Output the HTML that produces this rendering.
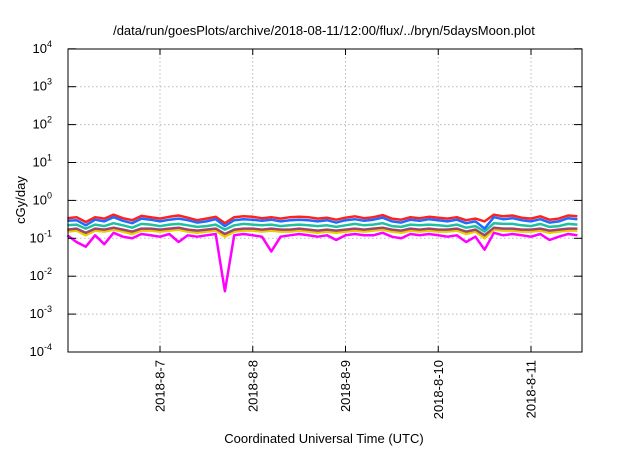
<!DOCTYPE html>
<html><head><meta charset="utf-8"><style>
body{margin:0;background:#fff;width:640px;height:448px;overflow:hidden}
svg{font-family:"Liberation Sans",sans-serif}
</style></head><body>
<svg id="chart" width="640" height="448" viewBox="0 0 640 448" xmlns="http://www.w3.org/2000/svg">
<text x="324" y="35" font-size="13" text-anchor="middle">/data/run/goesPlots/archive/2018-08-11/12:00/flux/../bryn/5daysMoon.plot</text>
<text transform="translate(25,200) rotate(-90)" font-size="13" text-anchor="middle">cGy/day</text>
<text x="324" y="443" font-size="13" text-anchor="middle">Coordinated Universal Time (UTC)</text>
<g id="grid"></g><g id="series"></g><g id="axes"></g>
</svg>
<script>
const dayTicks=["2018-8-7","2018-8-8","2018-8-9","2018-8-10","2018-8-11"];
const yExps=[-4,-3,-2,-1,0,1,2,3,4];
// time step 0.1 day starting 2018-8-6 00:00
const red=[0.34,0.36,0.27,0.36,0.33,0.42,0.34,0.30,0.39,0.36,0.33,0.37,0.40,0.35,0.30,0.33,0.37,0.25,0.36,0.38,0.37,0.34,0.36,0.33,0.36,0.37,0.36,0.33,0.35,0.31,0.35,0.38,0.34,0.36,0.41,0.33,0.31,0.36,0.34,0.37,0.35,0.33,0.36,0.30,0.33,0.28,0.42,0.38,0.40,0.35,0.33,0.38,0.31,0.33,0.40,0.38];
const blue=[0.29,0.30,0.22,0.31,0.28,0.36,0.29,0.25,0.33,0.31,0.28,0.31,0.33,0.30,0.26,0.28,0.32,0.21,0.30,0.32,0.31,0.29,0.31,0.28,0.30,0.31,0.30,0.28,0.30,0.26,0.30,0.32,0.29,0.31,0.35,0.28,0.26,0.31,0.29,0.32,0.30,0.28,0.31,0.25,0.28,0.18,0.36,0.32,0.34,0.30,0.28,0.32,0.26,0.28,0.34,0.32];
const teal=[0.22,0.23,0.18,0.23,0.21,0.25,0.22,0.19,0.24,0.23,0.21,0.23,0.24,0.22,0.20,0.21,0.23,0.17,0.22,0.24,0.23,0.22,0.23,0.21,0.22,0.23,0.22,0.21,0.22,0.20,0.22,0.24,0.22,0.23,0.25,0.21,0.20,0.23,0.22,0.23,0.22,0.21,0.23,0.19,0.21,0.15,0.25,0.24,0.24,0.22,0.21,0.24,0.20,0.21,0.24,0.23];
const brown=[0.17,0.18,0.14,0.18,0.17,0.19,0.17,0.15,0.18,0.18,0.17,0.18,0.19,0.17,0.16,0.17,0.18,0.13,0.17,0.18,0.18,0.17,0.18,0.17,0.17,0.18,0.17,0.16,0.17,0.16,0.17,0.18,0.17,0.18,0.19,0.17,0.16,0.18,0.17,0.18,0.17,0.17,0.18,0.15,0.17,0.12,0.19,0.18,0.18,0.17,0.17,0.18,0.16,0.17,0.18,0.18];
const yellow=[0.15,0.16,0.12,0.16,0.15,0.17,0.15,0.13,0.16,0.16,0.15,0.16,0.17,0.15,0.14,0.15,0.16,0.11,0.15,0.16,0.16,0.15,0.16,0.15,0.15,0.16,0.15,0.14,0.15,0.14,0.15,0.16,0.15,0.16,0.17,0.15,0.14,0.16,0.15,0.16,0.15,0.15,0.16,0.13,0.15,0.10,0.17,0.16,0.16,0.15,0.15,0.16,0.14,0.15,0.16,0.16];
const magenta=[0.12,0.08,0.06,0.12,0.07,0.14,0.11,0.10,0.13,0.12,0.11,0.13,0.08,0.12,0.11,0.12,0.13,0.004,0.12,0.13,0.12,0.11,0.045,0.11,0.12,0.13,0.12,0.11,0.12,0.09,0.12,0.13,0.12,0.12,0.14,0.11,0.10,0.13,0.12,0.13,0.12,0.11,0.12,0.08,0.11,0.05,0.14,0.12,0.13,0.12,0.11,0.13,0.09,0.11,0.13,0.12];
const seriesList=[["magenta",magenta,"#ff00ff"],["yellow",yellow,"#e8d000"],["brown",brown,"#a0466e"],["teal",teal,"#20c0a0"],["red",red,"#ff2020"],["blue",blue,"#1e6cff"]];
const X0=67.25,PXD=92.75,Y0=352,PXDEC=37.9,XL=68,XR=582,YT=49;
const xs=d=>X0+d*PXD, ys=v=>Y0-(Math.log10(v)+4)*PXDEC;
const NS="http://www.w3.org/2000/svg";
function mk(t,a,p){const e=document.createElementNS(NS,t);for(const k in a)e.setAttribute(k,a[k]);p.appendChild(e);return e;}
const grid=document.getElementById('grid'),ax=document.getElementById('axes'),sg=document.getElementById('series');
yExps.forEach(e=>{const y=ys(Math.pow(10,e));
 if(e>-4&&e<4){const l=mk('line',{x1:XL,x2:XR,y1:y,y2:y,stroke:'#bbb','stroke-dasharray':'1.5,2.5'},grid);
 
 }
 mk('line',{x1:XL,x2:XL+8,y1:y,y2:y,stroke:'#000'},ax);mk('line',{x1:XR-8,x2:XR,y1:y,y2:y,stroke:'#000'},ax);
 const t=mk('text',{x:52,y:y+4,'font-size':13,'text-anchor':'end'},ax);
 
 
 t.innerHTML='10<tspan dy="-6" font-size="9">'+e+'</tspan>';});
dayTicks.forEach((d,i)=>{const x=xs(i+1);
 const l=mk('line',{x1:x,x2:x,y1:YT,y2:Y0,stroke:'#bbb','stroke-dasharray':'1.5,2.5'},grid);
 
 
 mk('line',{x1:x,x2:x,y1:Y0-6,y2:Y0,stroke:'#000'},ax);mk('line',{x1:x,x2:x,y1:YT,y2:YT+6,stroke:'#000'},ax);
 const t=mk('text',{transform:`translate(${x+4.5},360) rotate(-90)`,'font-size':13,'text-anchor':'end'},ax);
 
 
 t.textContent=d;});
seriesList.forEach(([n,arr,c])=>{const pts=arr.map((v,i)=>xs(i*0.1).toFixed(1)+','+ys(v).toFixed(1)).join(' ');
 const p=mk('polyline',{points:pts,fill:'none',stroke:c,'stroke-width':2.5,'stroke-linejoin':'round'},sg);
 
 });
const fr=mk('rect',{x:XL,y:YT,width:XR-XL,height:Y0-YT,fill:'none',stroke:'#000','stroke-width':1},ax);


</script>
</body></html>
